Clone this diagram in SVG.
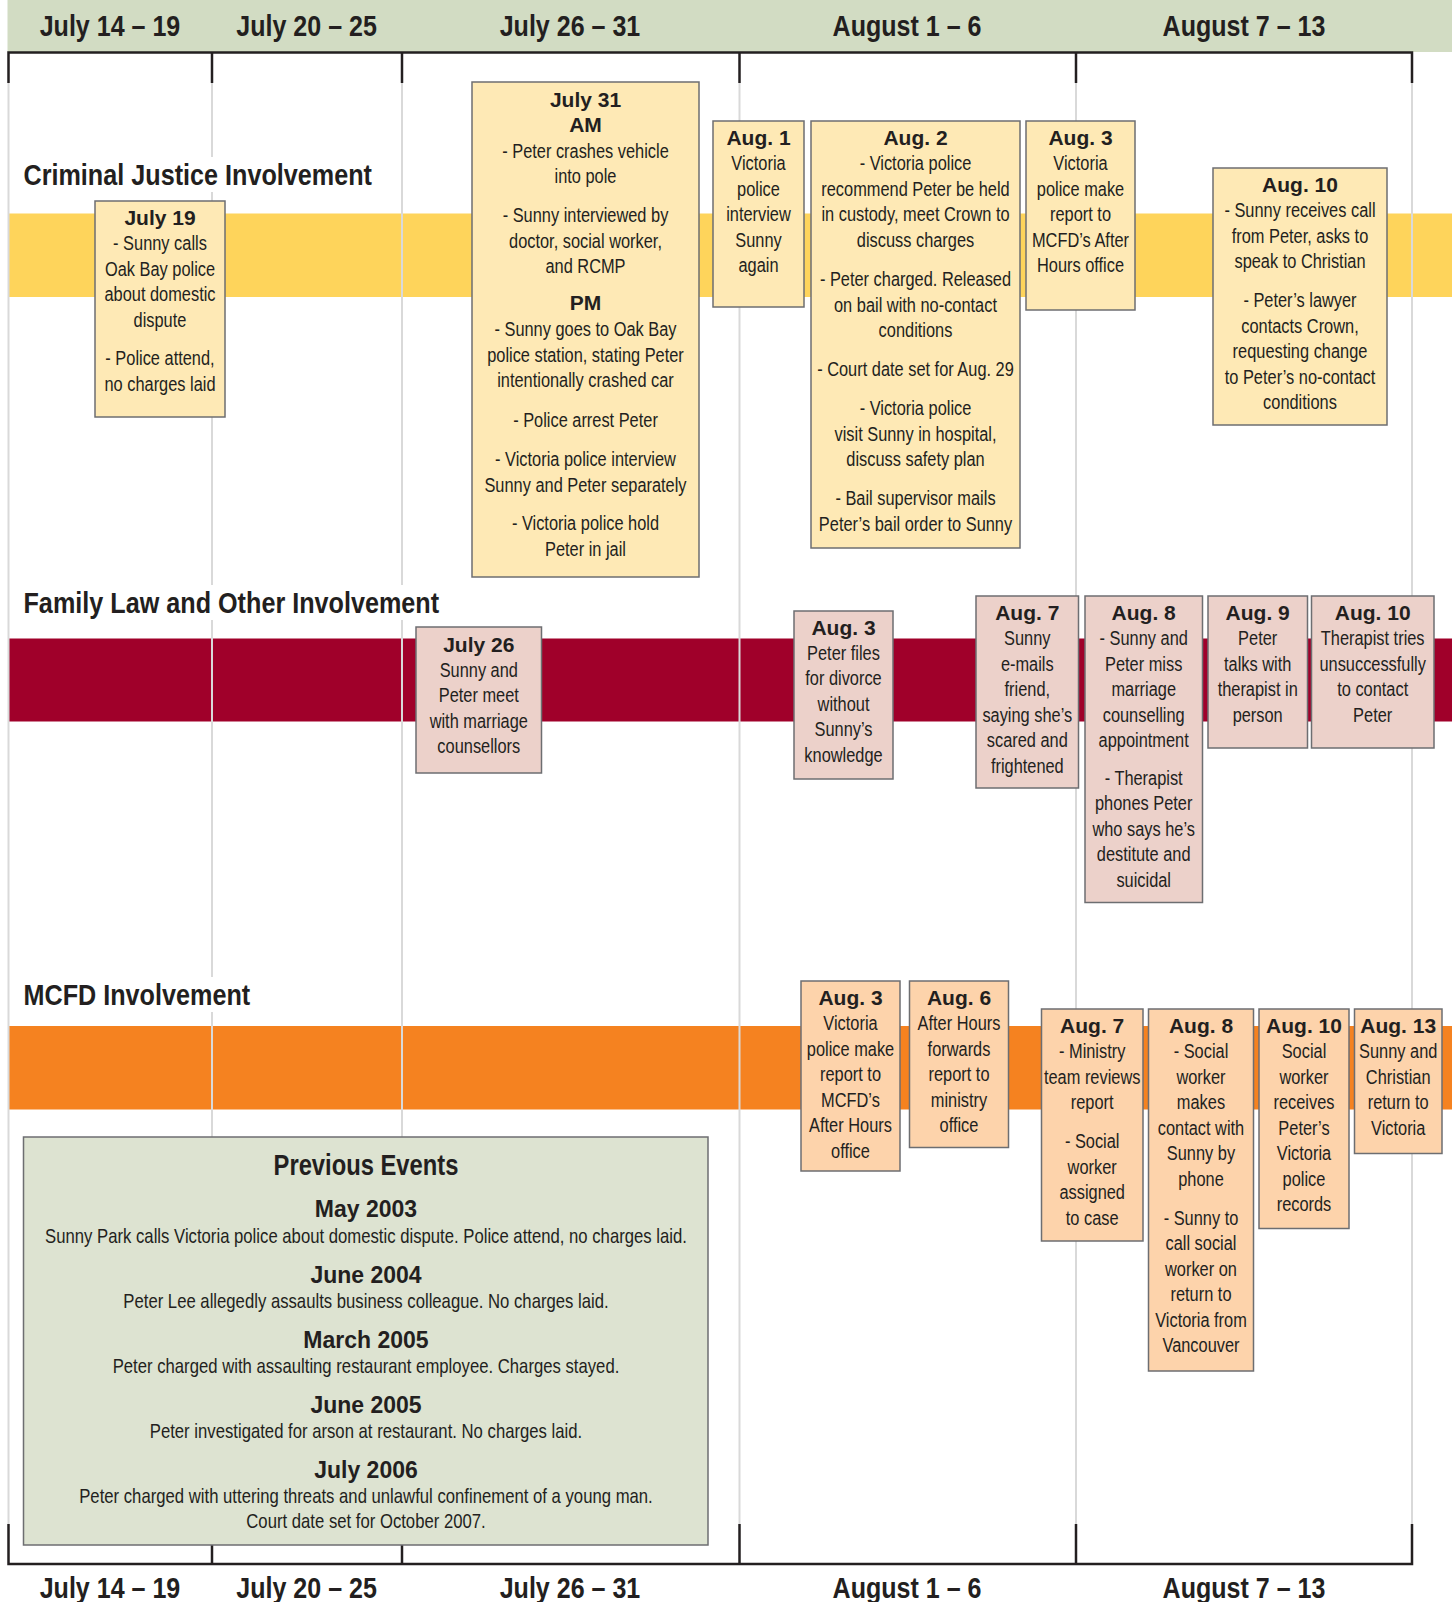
<svg xmlns="http://www.w3.org/2000/svg" width="1452" height="1602" viewBox="0 0 1452 1602">
<style>
.hdr{font-family:"Liberation Sans",Arial,sans-serif;font-weight:bold;font-size:30px;fill:#231f20;text-anchor:middle}
.sec{font-family:"Liberation Sans",Arial,sans-serif;font-weight:bold;font-size:30px;fill:#231f20}
.bx{stroke:#6d6e71;stroke-width:1.5}
.cj{fill:#fee9b5}.fl{fill:#ecd1ca}.mc{fill:#fdd3ab}.pv{fill:#dde3d1}
.t{font-family:"Liberation Sans",Arial,sans-serif;font-weight:bold;font-size:21px;fill:#231f20;text-anchor:middle}
.b{font-family:"Liberation Sans",Arial,sans-serif;font-size:21px;fill:#231f20;text-anchor:middle}
.pt{font-family:"Liberation Sans",Arial,sans-serif;font-weight:bold;font-size:29px;fill:#231f20;text-anchor:middle}
.ph{font-family:"Liberation Sans",Arial,sans-serif;font-weight:bold;font-size:23px;fill:#231f20;text-anchor:middle}
.grid{stroke:#d9d9d9;stroke-width:2}
.frame{stroke:#231f20;stroke-width:2.5;fill:none}
</style>
<rect width="1452" height="1602" fill="#ffffff"/>
<rect x="7.5" y="0" width="1444.5" height="52" fill="#d2dcc3"/>
<rect x="8" y="213.5" width="1444" height="83.5" fill="#fed45b"/>
<rect x="8" y="638.5" width="1444" height="83" fill="#a0002a"/>
<rect x="8" y="1026" width="1444" height="83.5" fill="#f58220"/>

<g id="timeline-grid">
<line class="grid" x1="8.5" y1="83" x2="8.5" y2="1524"/>
<line class="grid" x1="212" y1="83" x2="212" y2="1524"/>
<line class="grid" x1="402" y1="83" x2="402" y2="1524"/>
<line class="grid" x1="739.5" y1="83" x2="739.5" y2="1524"/>
<line class="grid" x1="1076" y1="83" x2="1076" y2="1524"/>
<line class="grid" x1="1412" y1="83" x2="1412" y2="1524"/>
</g>

<g id="timeline-frame">
<polyline class="frame" points="8.5,83 8.5,52.5 1412,52.5 1412,83"/>
<line class="frame" x1="212" y1="52.5" x2="212" y2="83"/>
<line class="frame" x1="402" y1="52.5" x2="402" y2="83"/>
<line class="frame" x1="739.5" y1="52.5" x2="739.5" y2="83"/>
<line class="frame" x1="1076" y1="52.5" x2="1076" y2="83"/>
<polyline class="frame" points="8.5,1524 8.5,1564 1412,1564 1412,1524"/>
<line class="frame" x1="212" y1="1524" x2="212" y2="1564"/>
<line class="frame" x1="402" y1="1524" x2="402" y2="1564"/>
<line class="frame" x1="739.5" y1="1524" x2="739.5" y2="1564"/>
<line class="frame" x1="1076" y1="1524" x2="1076" y2="1564"/>
</g>

<g id="section-criminal">
<rect x="20" y="157" width="354" height="35" fill="#ffffff"/>
<text class="sec" x="23.5" y="185" transform="matrix(0.84 0 0 1 3.76 0)">Criminal Justice Involvement</text>
</g>
<g id="section-family">
<rect x="20" y="585" width="422" height="35" fill="#ffffff"/>
<text class="sec" x="23.5" y="613.5" transform="matrix(0.84 0 0 1 3.76 0)">Family Law and Other Involvement</text>
</g>
<g id="section-mcfd">
<rect x="20" y="977" width="232" height="35" fill="#ffffff"/>
<text class="sec" x="23.5" y="1005" transform="matrix(0.84 0 0 1 3.76 0)">MCFD Involvement</text>
</g>

<g id="cj-jul19">
<rect class="bx cj" x="95" y="201" width="130" height="216"/>
<text class="t" x="160" y="225">July 19</text>
<text class="b" transform="matrix(0.78 0 0 1 35.2 0)"><tspan x="160" y="250.5">- Sunny calls</tspan><tspan x="160" y="276">Oak Bay police</tspan><tspan x="160" y="301.5">about domestic</tspan><tspan x="160" y="327">dispute</tspan><tspan x="160" y="365.5">- Police attend,</tspan><tspan x="160" y="391">no charges laid</tspan></text>
</g>

<g id="cj-jul31">
<rect class="bx cj" x="472" y="82" width="227" height="495"/>
<text class="t"><tspan x="585.5" y="106.7">July 31</tspan><tspan x="585.5" y="131.7">AM</tspan></text>
<text class="b" transform="matrix(0.78 0 0 1 128.81 0)"><tspan x="585.5" y="158">- Peter crashes vehicle</tspan><tspan x="585.5" y="183">into pole</tspan><tspan x="585.5" y="222.5">- Sunny interviewed by</tspan><tspan x="585.5" y="248">doctor, social worker,</tspan><tspan x="585.5" y="273">and RCMP</tspan></text>
<text class="t" x="585.5" y="310">PM</text>
<text class="b" transform="matrix(0.78 0 0 1 128.81 0)"><tspan x="585.5" y="336.5">- Sunny goes to Oak Bay</tspan><tspan x="585.5" y="362">police station, stating Peter</tspan><tspan x="585.5" y="387">intentionally crashed car</tspan><tspan x="585.5" y="427">- Police arrest Peter</tspan><tspan x="585.5" y="466.5">- Victoria police interview</tspan><tspan x="585.5" y="492">Sunny and Peter separately</tspan><tspan x="585.5" y="530.5">- Victoria police hold</tspan><tspan x="585.5" y="556">Peter in jail</tspan></text>
</g>

<g id="cj-aug1">
<rect class="bx cj" x="713" y="121" width="91" height="186"/>
<text class="t" x="758.5" y="145">Aug. 1</text>
<text class="b" transform="matrix(0.78 0 0 1 166.87 0)"><tspan x="758.5" y="170.5">Victoria</tspan><tspan x="758.5" y="196">police</tspan><tspan x="758.5" y="221.5">interview</tspan><tspan x="758.5" y="247">Sunny</tspan><tspan x="758.5" y="272.5">again</tspan></text>
</g>

<g id="cj-aug2">
<rect class="bx cj" x="811" y="121" width="209" height="427"/>
<text class="t" x="915.5" y="145">Aug. 2</text>
<text class="b" transform="matrix(0.78 0 0 1 201.41 0)"><tspan x="915.5" y="170.5">- Victoria police</tspan><tspan x="915.5" y="196">recommend Peter be held</tspan><tspan x="915.5" y="221.5">in custody, meet Crown to</tspan><tspan x="915.5" y="247">discuss charges</tspan><tspan x="915.5" y="286.5">- Peter charged. Released</tspan><tspan x="915.5" y="312">on bail with no-contact</tspan><tspan x="915.5" y="337.5">conditions</tspan><tspan x="915.5" y="376.5">- Court date set for Aug. 29</tspan><tspan x="915.5" y="415.5">- Victoria police</tspan><tspan x="915.5" y="441">visit Sunny in hospital,</tspan><tspan x="915.5" y="466.5">discuss safety plan</tspan><tspan x="915.5" y="505.5">- Bail supervisor mails</tspan><tspan x="915.5" y="531">Peter’s bail order to Sunny</tspan></text>
</g>

<g id="cj-aug3">
<rect class="bx cj" x="1026" y="121" width="109" height="189"/>
<text class="t" x="1080.5" y="145">Aug. 3</text>
<text class="b" transform="matrix(0.78 0 0 1 237.71 0)"><tspan x="1080.5" y="170.5">Victoria</tspan><tspan x="1080.5" y="196">police make</tspan><tspan x="1080.5" y="221.5">report to</tspan><tspan x="1080.5" y="247">MCFD’s After</tspan><tspan x="1080.5" y="272.5">Hours office</tspan></text>
</g>

<g id="cj-aug10">
<rect class="bx cj" x="1213" y="168" width="174" height="257"/>
<text class="t" x="1300" y="192">Aug. 10</text>
<text class="b" transform="matrix(0.78 0 0 1 286 0)"><tspan x="1300" y="217.5">- Sunny receives call</tspan><tspan x="1300" y="243">from Peter, asks to</tspan><tspan x="1300" y="268.5">speak to Christian</tspan><tspan x="1300" y="307.5">- Peter’s lawyer</tspan><tspan x="1300" y="333">contacts Crown,</tspan><tspan x="1300" y="358.5">requesting change</tspan><tspan x="1300" y="384">to Peter’s no-contact</tspan><tspan x="1300" y="409.5">conditions</tspan></text>
</g>

<g id="fl-jul26">
<rect class="bx fl" x="416" y="627" width="125.5" height="146"/>
<text class="t" x="478.8" y="651.5">July 26</text>
<text class="b" transform="matrix(0.78 0 0 1 105.34 0)"><tspan x="478.8" y="677">Sunny and</tspan><tspan x="478.8" y="702.5">Peter meet</tspan><tspan x="478.8" y="728">with marriage</tspan><tspan x="478.8" y="753.5">counsellors</tspan></text>
</g>

<g id="fl-aug3">
<rect class="bx fl" x="794" y="611" width="99" height="168"/>
<text class="t" x="843.5" y="634.5">Aug. 3</text>
<text class="b" transform="matrix(0.78 0 0 1 185.57 0)"><tspan x="843.5" y="660">Peter files</tspan><tspan x="843.5" y="685.5">for divorce</tspan><tspan x="843.5" y="711">without</tspan><tspan x="843.5" y="736.5">Sunny’s</tspan><tspan x="843.5" y="762">knowledge</tspan></text>
</g>

<g id="fl-aug7">
<rect class="bx fl" x="976" y="596" width="102.5" height="192"/>
<text class="t" x="1027.3" y="620">Aug. 7</text>
<text class="b" transform="matrix(0.78 0 0 1 226.01 0)"><tspan x="1027.3" y="645.5">Sunny</tspan><tspan x="1027.3" y="671">e-mails</tspan><tspan x="1027.3" y="696.5">friend,</tspan><tspan x="1027.3" y="722">saying she’s</tspan><tspan x="1027.3" y="747.5">scared and</tspan><tspan x="1027.3" y="773">frightened</tspan></text>
</g>

<g id="fl-aug8">
<rect class="bx fl" x="1085" y="596" width="117.5" height="306.5"/>
<text class="t" x="1143.7" y="620">Aug. 8</text>
<text class="b" transform="matrix(0.78 0 0 1 251.61 0)"><tspan x="1143.7" y="645.5">- Sunny and</tspan><tspan x="1143.7" y="671">Peter miss</tspan><tspan x="1143.7" y="696.5">marriage</tspan><tspan x="1143.7" y="722">counselling</tspan><tspan x="1143.7" y="747.5">appointment</tspan><tspan x="1143.7" y="785">- Therapist</tspan><tspan x="1143.7" y="810.5">phones Peter</tspan><tspan x="1143.7" y="836">who says he’s</tspan><tspan x="1143.7" y="861.5">destitute and</tspan><tspan x="1143.7" y="887">suicidal</tspan></text>
</g>

<g id="fl-aug9">
<rect class="bx fl" x="1208" y="596" width="99.5" height="152"/>
<text class="t" x="1257.7" y="620">Aug. 9</text>
<text class="b" transform="matrix(0.78 0 0 1 276.69 0)"><tspan x="1257.7" y="645.5">Peter</tspan><tspan x="1257.7" y="671">talks with</tspan><tspan x="1257.7" y="696.5">therapist in</tspan><tspan x="1257.7" y="722">person</tspan></text>
</g>

<g id="fl-aug10">
<rect class="bx fl" x="1311.5" y="596" width="122.5" height="152"/>
<text class="t" x="1372.7" y="620">Aug. 10</text>
<text class="b" transform="matrix(0.78 0 0 1 301.99 0)"><tspan x="1372.7" y="645.5">Therapist tries</tspan><tspan x="1372.7" y="671">unsuccessfully</tspan><tspan x="1372.7" y="696.5">to contact</tspan><tspan x="1372.7" y="722">Peter</tspan></text>
</g>

<g id="mc-aug3">
<rect class="bx mc" x="801" y="981" width="99" height="190"/>
<text class="t" x="850.5" y="1005">Aug. 3</text>
<text class="b" transform="matrix(0.78 0 0 1 187.11 0)"><tspan x="850.5" y="1030.5">Victoria</tspan><tspan x="850.5" y="1056">police make</tspan><tspan x="850.5" y="1081.5">report to</tspan><tspan x="850.5" y="1107">MCFD’s</tspan><tspan x="850.5" y="1132.5">After Hours</tspan><tspan x="850.5" y="1158">office</tspan></text>
</g>

<g id="mc-aug6">
<rect class="bx mc" x="909.5" y="981" width="99" height="166.5"/>
<text class="t" x="959" y="1005">Aug. 6</text>
<text class="b" transform="matrix(0.78 0 0 1 210.98 0)"><tspan x="959" y="1030.5">After Hours</tspan><tspan x="959" y="1056">forwards</tspan><tspan x="959" y="1081.5">report to</tspan><tspan x="959" y="1107">ministry</tspan><tspan x="959" y="1132.5">office</tspan></text>
</g>

<g id="mc-aug7">
<rect class="bx mc" x="1041.5" y="1009" width="101.5" height="232"/>
<text class="t" x="1092.2" y="1033">Aug. 7</text>
<text class="b" transform="matrix(0.78 0 0 1 240.28 0)"><tspan x="1092.2" y="1058.5">- Ministry</tspan><tspan x="1092.2" y="1084">team reviews</tspan><tspan x="1092.2" y="1109.5">report</tspan><tspan x="1092.2" y="1148.5">- Social</tspan><tspan x="1092.2" y="1174">worker</tspan><tspan x="1092.2" y="1199.5">assigned</tspan><tspan x="1092.2" y="1225">to case</tspan></text>
</g>

<g id="mc-aug8">
<rect class="bx mc" x="1148.5" y="1009" width="105" height="362"/>
<text class="t" x="1201" y="1033">Aug. 8</text>
<text class="b" transform="matrix(0.78 0 0 1 264.22 0)"><tspan x="1201" y="1058.5">- Social</tspan><tspan x="1201" y="1084">worker</tspan><tspan x="1201" y="1109.5">makes</tspan><tspan x="1201" y="1135">contact with</tspan><tspan x="1201" y="1160.5">Sunny by</tspan><tspan x="1201" y="1186">phone</tspan><tspan x="1201" y="1225">- Sunny to</tspan><tspan x="1201" y="1250.5">call social</tspan><tspan x="1201" y="1276">worker on</tspan><tspan x="1201" y="1301.5">return to</tspan><tspan x="1201" y="1327">Victoria from</tspan><tspan x="1201" y="1352.5">Vancouver</tspan></text>
</g>

<g id="mc-aug10">
<rect class="bx mc" x="1259" y="1009" width="90" height="219.5"/>
<text class="t" x="1304" y="1033">Aug. 10</text>
<text class="b" transform="matrix(0.78 0 0 1 286.88 0)"><tspan x="1304" y="1058.5">Social</tspan><tspan x="1304" y="1084">worker</tspan><tspan x="1304" y="1109.5">receives</tspan><tspan x="1304" y="1135">Peter’s</tspan><tspan x="1304" y="1160.5">Victoria</tspan><tspan x="1304" y="1186">police</tspan><tspan x="1304" y="1211.5">records</tspan></text>
</g>

<g id="mc-aug13">
<rect class="bx mc" x="1354.5" y="1009" width="87.5" height="144.5"/>
<text class="t" x="1398.2" y="1033">Aug. 13</text>
<text class="b" transform="matrix(0.78 0 0 1 307.6 0)"><tspan x="1398.2" y="1058.5">Sunny and</tspan><tspan x="1398.2" y="1084">Christian</tspan><tspan x="1398.2" y="1109.5">return to</tspan><tspan x="1398.2" y="1135">Victoria</tspan></text>
</g>

<g id="previous-events">
<rect class="bx pv" x="23.5" y="1137" width="684.5" height="408"/>
<text class="pt" x="366" y="1175" transform="matrix(0.82 0 0 1 65.88 0)">Previous Events</text>
<text class="ph" x="366" y="1217">May 2003</text>
<text class="ph" x="366" y="1283">June 2004</text>
<text class="ph" x="366" y="1348">March 2005</text>
<text class="ph" x="366" y="1413">June 2005</text>
<text class="ph" x="366" y="1478">July 2006</text>
<text class="b" transform="matrix(0.795 0 0 1 75.03 0)"><tspan x="366" y="1243">Sunny Park calls Victoria police about domestic dispute. Police attend, no charges laid.</tspan><tspan x="366" y="1308.5">Peter Lee allegedly assaults business colleague. No charges laid.</tspan><tspan x="366" y="1373.5">Peter charged with assaulting restaurant employee. Charges stayed.</tspan><tspan x="366" y="1438.5">Peter investigated for arson at restaurant. No charges laid.</tspan><tspan x="366" y="1503.5">Peter charged with uttering threats and unlawful confinement of a young man.</tspan><tspan x="366" y="1528.5">Court date set for October 2007.</tspan></text>
</g>

<g id="header-labels">
<text class="hdr" x="110" y="36" transform="matrix(0.835 0 0 1 18.15 0)">July 14 – 19</text>
<text class="hdr" x="306.6" y="36" transform="matrix(0.835 0 0 1 50.59 0)">July 20 – 25</text>
<text class="hdr" x="570" y="36" transform="matrix(0.835 0 0 1 94.05 0)">July 26 – 31</text>
<text class="hdr" x="907" y="36" transform="matrix(0.835 0 0 1 149.66 0)">August 1 – 6</text>
<text class="hdr" x="1244" y="36" transform="matrix(0.835 0 0 1 205.26 0)">August 7 – 13</text>
</g>
<g id="footer-labels">
<text class="hdr" x="110" y="1598" transform="matrix(0.835 0 0 1 18.15 0)">July 14 – 19</text>
<text class="hdr" x="306.6" y="1598" transform="matrix(0.835 0 0 1 50.59 0)">July 20 – 25</text>
<text class="hdr" x="570" y="1598" transform="matrix(0.835 0 0 1 94.05 0)">July 26 – 31</text>
<text class="hdr" x="907" y="1598" transform="matrix(0.835 0 0 1 149.66 0)">August 1 – 6</text>
<text class="hdr" x="1244" y="1598" transform="matrix(0.835 0 0 1 205.26 0)">August 7 – 13</text>
</g>
</svg>
